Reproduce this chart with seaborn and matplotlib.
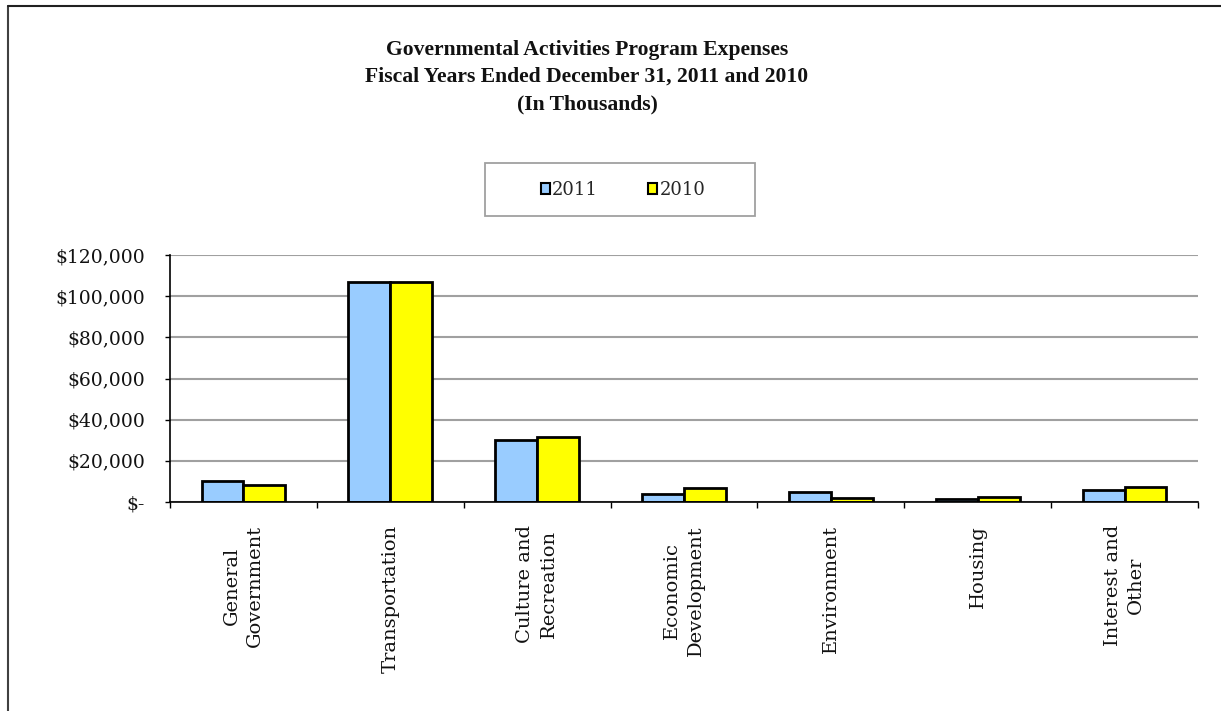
import matplotlib
matplotlib.use("Agg")
import matplotlib.pyplot as plt
import seaborn as sns
import pandas as pd
from matplotlib.patches import Rectangle, Patch
from matplotlib.lines import Line2D
from matplotlib.ticker import FuncFormatter, FixedLocator

categories = ["General\nGovernment", "Transportation", "Culture and\nRecreation",
              "Economic\nDevelopment", "Environment", "Housing", "Interest and\nOther"]
values_2011 = [10200, 106900, 30100, 4100, 4700, 1300, 6000]
values_2010 = [8400, 106900, 31400, 6600, 1800, 2600, 7500]
years = ["2011", "2010"]
colors = {"2011": "#99CCFF", "2010": "#FFFF00"}
yticks = [0, 20000, 40000, 60000, 80000, 100000, 120000]
title_lines = ["Governmental Activities Program Expenses",
               "Fiscal Years Ended December 31, 2011 and 2010",
               "(In Thousands)"]

df = pd.DataFrame({
    "category": categories * 2,
    "year": ["2011"] * len(categories) + ["2010"] * len(categories),
    "value": values_2011 + values_2010,
})

sns.set_theme(style="white")
plt.rcParams["font.family"] = ["DejaVu Serif"]

fig = plt.figure(figsize=(12.21, 7.11), dpi=100)
ax = fig.add_axes([170 / 1221, 1 - 502 / 711, (1198 - 170) / 1221, (502 - 255) / 711])

sns.barplot(data=df, x="category", y="value", hue="year", hue_order=years,
            palette=colors, edgecolor="black", linewidth=2, width=0.57,
            saturation=1, ax=ax, legend=False, errorbar=None)

ax.set_xlim(-0.5, len(categories) - 0.5)
ax.set_ylim(0, 120000)
ax.set_yticks(yticks)
ax.yaxis.set_major_formatter(FuncFormatter(lambda v, p: "$-" if v == 0 else f"${int(v):,}"))
ax.yaxis.grid(True, color="#A0A0A0", linewidth=1.5)
ax.set_axisbelow(True)
ax.set_xlabel("")
ax.set_ylabel("")

for s in ["top", "right"]:
    ax.spines[s].set_visible(False)
for s in ["left", "bottom"]:
    ax.spines[s].set_visible(True)
    ax.spines[s].set_color("black")
    ax.spines[s].set_linewidth(1.2)

ax.tick_params(axis="y", which="major", left=True, length=3.6, width=1, color="black",
               labelsize=13.5, pad=14.4, labelcolor="#111111")
ax.set_xticks(range(len(categories)))
ax.set_xticklabels(categories, rotation=90, fontsize=14, va="top", ha="center",
                   multialignment="center", color="#111111", linespacing=1.4)
ax.tick_params(axis="x", which="major", length=0, pad=16.5)
ax.xaxis.set_minor_locator(FixedLocator([i - 0.5 for i in range(len(categories) + 1)]))
ax.tick_params(axis="x", which="minor", bottom=True, length=4, width=1, color="black")

# title
for i, line in enumerate(title_lines):
    fig.text(587 / 1221, 1 - (50 + i * 27) / 711, line, ha="center", va="center",
             fontsize=15.6, fontweight="bold", family="Liberation Serif", color="#111111")

# legend box
fig.patches.append(Rectangle((485 / 1221, 1 - 216 / 711), 270 / 1221, 53 / 711,
                             transform=fig.transFigure, facecolor="white",
                             edgecolor="#A0A0A0", linewidth=1.3))
handles = [Patch(facecolor=colors[y], edgecolor="black", linewidth=1.5, label=y) for y in years]
fig.legend(handles=handles, loc="center", bbox_to_anchor=(623 / 1221, 1 - 190 / 711),
           ncol=2, frameon=False, handlelength=0.5, handleheight=0.5,
           handletextpad=0.12, columnspacing=2.8, prop={"family": "DejaVu Serif", "size": 13})

# figure border
fig.add_artist(Line2D([8 / 1221, 8 / 1221], [0, 1 - 6 / 711], transform=fig.transFigure,
                      color="#404040", linewidth=1.5))
fig.add_artist(Line2D([8 / 1221, 1], [1 - 6 / 711, 1 - 6 / 711], transform=fig.transFigure,
                      color="#202020", linewidth=1.5))

fig.savefig("out.png", dpi=100)
